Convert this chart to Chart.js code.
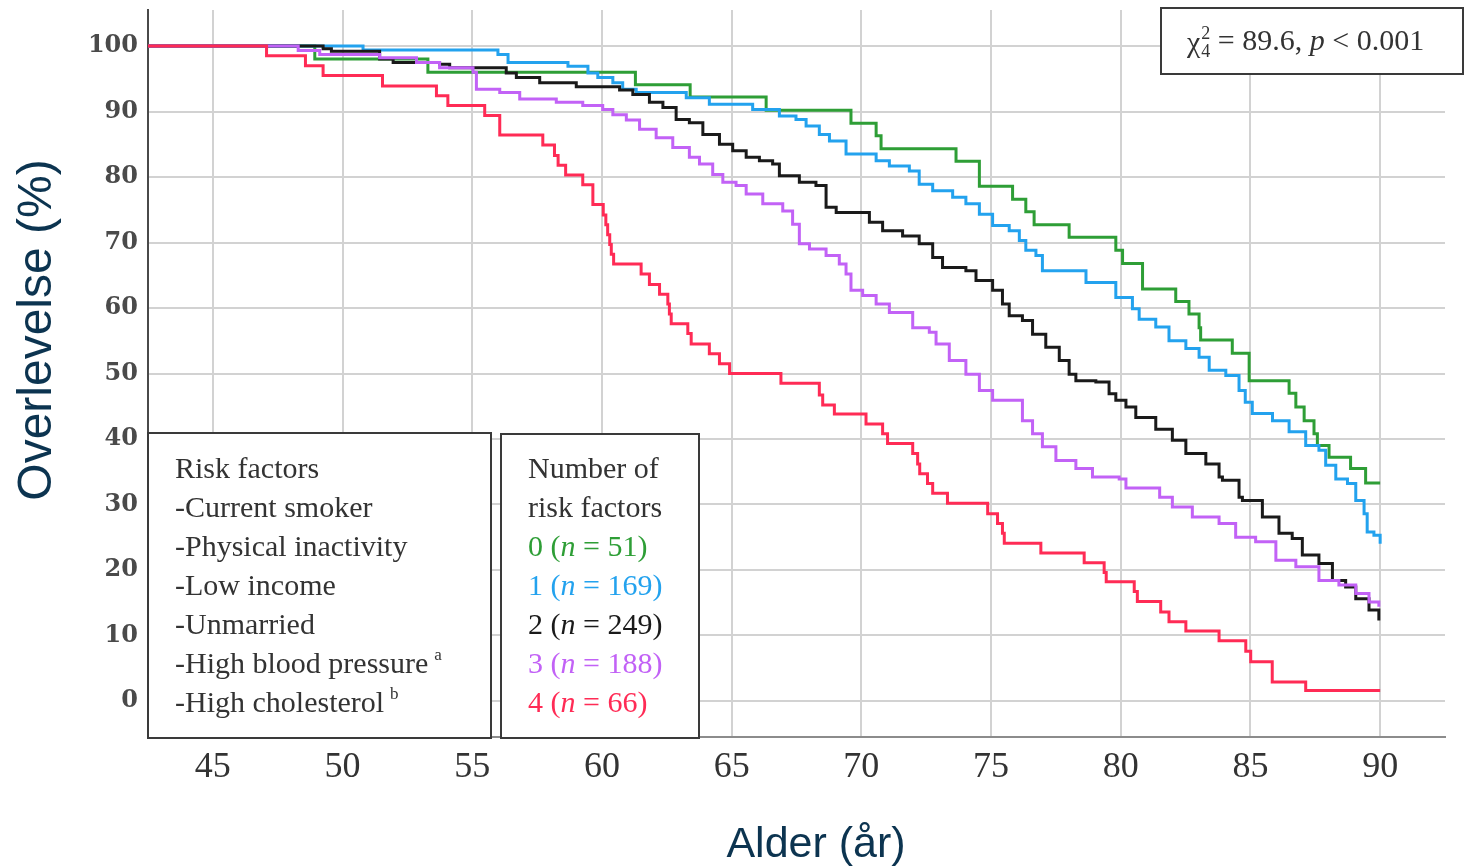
<!DOCTYPE html>
<html>
<head>
<meta charset="utf-8">
<script src="https://cdn.jsdelivr.net/npm/chart.js@4.4.0/dist/chart.umd.min.js"></script>
<style>
    html, body { margin: 0; padding: 0; background: #fff; }
    #wrap { width: 1476px; height: 866px; }
</style>
</head>
<body>
<div id="wrap"><canvas id="kmChart"></canvas></div>
<script>
// survival curves, [age, survival %]
const group0 = [[42.5,100],[48.93,98.0],[53.29,96.0],[61.29,94.1],[63.4,92.2],[66.33,90.2],[69.6,88.2],[70.57,86.3],[70.76,84.3],[73.65,82.4],[74.55,78.6],[75.83,76.6],[76.34,74.7],[76.66,72.7],[78.01,70.8],[79.81,68.8],[80.07,66.8],[80.84,62.9],[82.12,61.0],[82.63,59.1],[83.02,57.0],[83.08,55.1],[84.3,53.1],[84.95,48.9],[86.49,47.0],[86.75,44.9],[87.07,42.8],[87.45,40.8],[87.58,39.0],[88.03,37.2],[88.86,35.5],[89.44,33.3],[90,33.3]];
const group1 = [[42.5,100],[50.79,99.4],[55.99,98.7],[56.38,97.5],[58.69,96.9],[59.46,95.9],[59.84,95.2],[60.42,94.4],[60.8,93.4],[61.32,92.9],[63.25,92.1],[64.14,91.1],[65.81,90.3],[66.84,89.3],[67.48,88.8],[67.87,87.8],[68.38,86.5],[68.77,85.5],[69.41,83.5],[70.57,82.5],[71.08,81.7],[71.85,80.9],[72.23,78.9],[72.75,77.9],[73.52,76.9],[74.03,75.9],[74.55,74.3],[75.06,72.6],[75.7,71.8],[76.09,70.3],[76.34,68.8],[76.73,68.0],[76.98,65.7],[78.66,63.9],[79.81,61.6],[80.45,59.9],[80.71,58.3],[81.35,57.1],[81.86,55.0],[82.51,53.8],[83.02,52.5],[83.41,50.5],[84.05,49.7],[84.56,47.4],[84.8,45.6],[85.07,43.9],[85.85,42.8],[86.49,41.1],[87.13,39.0],[87.64,38.3],[87.9,36.0],[88.29,33.9],[88.74,33.2],[89.06,30.6],[89.38,28.6],[89.5,25.8],[89.76,25.3],[90,24.0]];
const group2 = [[42.5,100],[49.25,99.6],[49.57,99.2],[51.43,98.0],[51.95,97.5],[53.74,97.2],[54.13,96.7],[56.31,95.9],[56.7,95.2],[57.6,94.4],[59.01,93.8],[60.68,93.3],[61.19,92.6],[61.83,91.4],[62.35,90.6],[62.86,88.8],[63.37,88.3],[63.89,86.5],[64.53,85.0],[65.04,84.0],[65.56,83.0],[66.07,82.5],[66.58,82.0],[66.84,80.2],[67.61,79.2],[68.25,78.7],[68.64,75.4],[69.03,74.6],[70.31,73.1],[70.82,71.8],[71.59,71.0],[72.23,69.8],[72.75,67.7],[73.13,66.2],[74.03,65.7],[74.42,64.2],[75.06,62.7],[75.44,60.6],[75.7,58.8],[76.21,58.1],[76.6,56.0],[77.11,54.0],[77.63,52.0],[78.01,49.9],[78.27,48.9],[79.04,48.7],[79.55,46.9],[79.81,45.9],[80.2,44.9],[80.58,43.3],[81.35,41.5],[81.99,39.8],[82.51,37.8],[83.28,36.2],[83.79,34.2],[83.92,33.7],[84.56,31.1],[84.69,30.6],[85.46,28.1],[86.1,25.6],[86.61,24.8],[87.0,22.3],[87.64,21.0],[88.16,18.4],[88.67,17.4],[89.06,15.6],[89.57,13.9],[89.95,12.3]];
const group3 = [[42.5,100],[48.29,99.3],[49.12,98.7],[51.43,98.2],[52.85,97.5],[53.74,96.7],[55.03,96.0],[55.16,93.4],[56.06,92.9],[56.83,91.9],[58.24,91.4],[59.26,90.9],[60.03,90.3],[60.42,89.5],[60.94,88.7],[61.45,87.3],[62.09,86.0],[62.73,84.5],[63.37,83.0],[63.76,82.0],[64.27,80.4],[64.66,79.2],[65.17,78.7],[65.56,77.4],[66.2,75.9],[66.97,74.8],[67.35,72.8],[67.61,69.8],[68.0,69.0],[68.64,68.0],[69.15,66.7],[69.41,65.2],[69.6,62.7],[70.05,61.9],[70.57,60.6],[71.08,59.3],[71.98,57.0],[72.62,56.3],[72.88,54.5],[73.39,52.0],[74.03,49.9],[74.55,47.4],[75.06,45.9],[76.21,42.8],[76.6,40.8],[76.98,38.8],[77.5,36.7],[78.27,35.5],[78.91,34.2],[79.94,33.9],[80.2,32.5],[81.5,31.1],[81.99,29.6],[82.76,28.1],[83.79,27.1],[84.43,25.0],[85.2,24.3],[85.98,21.5],[86.75,20.5],[87.64,18.4],[88.41,17.7],[89.06,16.4],[89.57,15.1],[89.95,14.4]];
const group4 = [[42.5,100],[47.07,98.5],[48.57,97.0],[49.25,95.5],[51.54,93.9],[53.62,92.4],[54.06,90.9],[55.48,89.4],[56.06,86.4],[57.72,84.9],[58.17,83.3],[58.31,81.8],[58.6,80.3],[59.26,78.8],[59.65,75.8],[60.05,74.2],[60.15,72.7],[60.22,71.2],[60.3,69.7],[60.36,68.2],[60.45,66.7],[61.51,65.2],[61.83,63.6],[62.22,62.1],[62.54,60.6],[62.6,59.1],[62.67,57.6],[63.31,56.1],[63.44,54.5],[64.14,53.0],[64.53,51.5],[64.92,50.0],[66.9,48.5],[68.38,46.7],[68.51,45.2],[68.96,43.8],[70.18,42.3],[70.82,40.8],[71.01,39.3],[71.98,37.8],[72.17,36.2],[72.25,34.7],[72.55,33.2],[72.75,31.7],[73.32,30.2],[74.87,28.6],[75.25,27.1],[75.44,25.6],[75.51,24.1],[76.92,22.6],[78.59,21.1],[79.36,19.6],[79.44,18.2],[80.52,16.7],[80.64,15.2],[81.54,13.6],[81.86,12.1],[82.51,10.7],[83.79,9.2],[84.82,7.6],[85.01,6.0],[85.84,2.9],[87.13,1.6],[90,1.6]];

const groupCounts = ["0", "1", "2", "3", "4"];
const groupN = [51, 169, 249, 188, 66];
const groupColors = ["#2e9e36", "#23a2ee", "#1a1a1a", "#c262f6", "#ff2b55"];

const xTicks = [45, 50, 55, 60, 65, 70, 75, 80, 85, 90];
const yTicks = [0, 10, 20, 30, 40, 50, 60, 70, 80, 90, 100];

const xTitle = "Alder (år)";
const yTitle = "Overlevelse (%)";
const riskLines = ["Risk factors", "-Current smoker", "-Physical inactivity", "-Low income", "-Unmarried", "-High blood pressure", "-High cholesterol"];
const riskNotes = ["", "", "", "", "", "a", "b"];
const countHeader = ["Number of", "risk factors"];

const TEXT = "#333333";
const TITLE = "#0c3450";
const SERIF = '"Liberation Serif", serif';

// draw a row of text pieces with different fonts, left to right
function drawRuns(ctx, runs, x, y) {
    runs.forEach(r => {
        ctx.font = r.font;
        ctx.fillStyle = r.color || TEXT;
        ctx.fillText(r.text, x, y + (r.dy || 0));
        x += ctx.measureText(r.text).width + (r.gap || 0);
    });
    return x;
}

function box(ctx, x, y, w, h) {
    ctx.fillStyle = "#fff";
    ctx.fillRect(x, y, w, h);
    ctx.strokeStyle = "#3a3a3a";
    ctx.lineWidth = 2;
    ctx.strokeRect(x, y, w, h);
}

const overlay = {
    id: "overlay",
    afterDraw(chart) {
        const ctx = chart.ctx;
        ctx.save();
        ctx.textBaseline = "middle";

        // axis titles
        ctx.fillStyle = TITLE;
        ctx.textAlign = "center";
        ctx.font = '43px "Liberation Sans"';
        ctx.fillText(xTitle, 816, 845);
        ctx.save();
        ctx.translate(38, 330);
        ctx.rotate(-Math.PI / 2);
        ctx.font = '48px "Liberation Sans"';
        ctx.fillText(yTitle, 0, 0);
        ctx.restore();

        ctx.textAlign = "left";
        const f = "30px " + SERIF;
        const fi = "italic 30px " + SERIF;
        const fs = "17px " + SERIF;

        // risk factor box
        box(ctx, 148, 433, 343, 305);
        riskLines.forEach((t, i) => {
            const y = 470 + i * 39;
            drawRuns(ctx, [{ text: t, font: f, gap: 6 }, { text: riskNotes[i], font: fs, dy: -9 }], 175, y);
        });

        // number of risk factors box
        box(ctx, 501, 434, 198, 304);
        countHeader.forEach((t, i) => drawRuns(ctx, [{ text: t, font: f }], 528, 470 + i * 39));
        groupCounts.forEach((c, i) => {
            const col = groupColors[i];
            drawRuns(ctx, [
                { text: c + " (", font: f, color: col },
                { text: "n", font: fi, color: col },
                { text: " = " + groupN[i] + ")", font: f, color: col }
            ], 528, 548 + i * 39);
        });

        // log-rank box
        box(ctx, 1161, 8, 302, 66);
        let x = drawRuns(ctx, [{ text: "χ", font: f }], 1187, 44);
        drawRuns(ctx, [{ text: "2", font: "18px " + SERIF, dy: -10 }], x + 1, 44);
        x = drawRuns(ctx, [{ text: "4", font: "18px " + SERIF, dy: 8 }], x + 1, 44);
        drawRuns(ctx, [
            { text: " = 89.6, ", font: f },
            { text: "p", font: fi },
            { text: " < 0.001", font: f }
        ], x, 42);

        ctx.restore();
    }
};

const toPoints = g => g.map(p => ({ x: p[0], y: p[1] }));

// red drawn on top, green at the bottom
const order = [4, 3, 2, 1, 0];
const groups = [group0, group1, group2, group3, group4];

new Chart(document.getElementById("kmChart"), {
    type: "line",
    data: {
        datasets: order.map(i => ({
            label: groupCounts[i],
            data: toPoints(groups[i]),
            borderColor: groupColors[i],
            borderWidth: 3,
            stepped: "before",
            pointRadius: 0,
            fill: false
        }))
    },
    options: {
        responsive: true,
        maintainAspectRatio: false,
        animation: false,
        layout: { padding: { top: 10, right: 31, left: 0, bottom: 0 } },
        plugins: {
            legend: { display: false },
            tooltip: { enabled: false }
        },
        scales: {
            x: {
                type: "linear",
                min: 42.5,
                max: 92.5,
                afterBuildTicks: s => { s.ticks = xTicks.map(v => ({ value: v })); },
                afterFit: s => { s.height = 129; s.paddingLeft = 0; s.paddingRight = 0; },
                ticks: {
                    autoSkip: false,
                    maxRotation: 0,
                    padding: 9,
                    color: TEXT,
                    font: { family: "Liberation Serif", size: 36 }
                },
                grid: { color: "#d2d2d2", lineWidth: 2, drawTicks: false },
                border: { color: "#8c8c8c", width: 2 }
            },
            y: {
                type: "linear",
                min: -5.5,
                max: 105.5,
                afterBuildTicks: s => { s.ticks = yTicks.map(v => ({ value: v })); },
                afterFit: s => { s.width = 148; s.paddingTop = 0; s.paddingBottom = 0; },
                ticks: {
                    padding: 10,
                    color: "#4a4a4a",
                    font: { family: "DejaVu Serif", size: 24, weight: "bold" }
                },
                grid: { color: "#d2d2d2", lineWidth: 2, drawTicks: false },
                border: { color: "#4a4a4a", width: 2 }
            }
        }
    },
    plugins: [overlay]
});
</script>
</body>
</html>
